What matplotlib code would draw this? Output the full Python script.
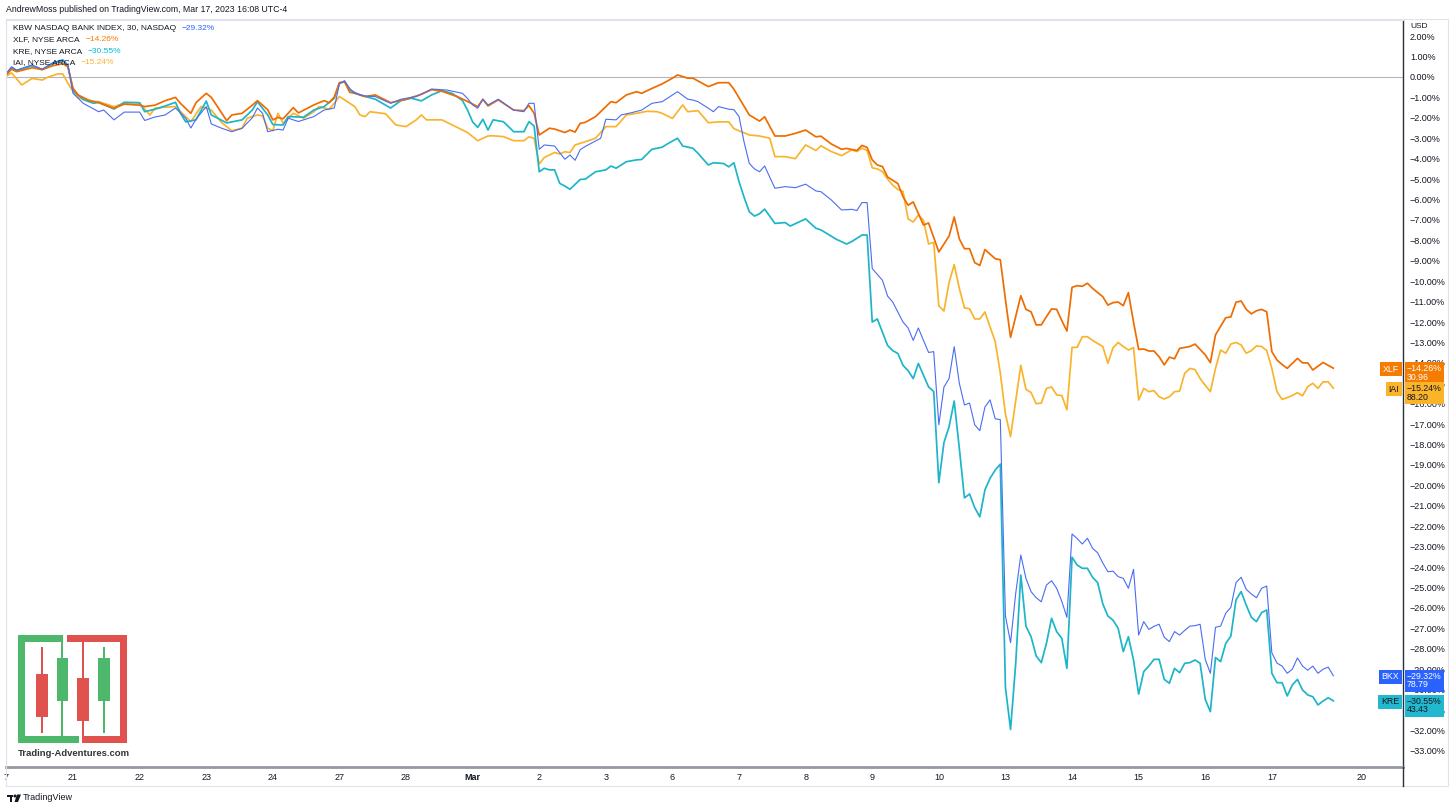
import numpy as np
import matplotlib.pyplot as plt
from matplotlib.patches import Rectangle, Polygon, Ellipse
from matplotlib.lines import Line2D
from matplotlib.transforms import blended_transform_factory, offset_copy

plt.rcParams['font.family'] = ['Liberation Sans', 'DejaVu Sans']

W, H = 1456, 810

# (30-min bar index counted from the Feb 17 open, % change since start)
xlf = [(0, 0.1), (1, 0.38), (2, 0.26), (5, 0.45), (7, 0.36), (9, 0.55), (11, 0.65), (12, 0.5),
       (13, -0.55), (14, -0.88), (16, -1.13), (18, -1.26), (21, -1.53), (23, -1.33), (26, -1.38),
       (27, -1.45), (29, -1.38), (31, -1.16), (33, -1.0), (34, -1.3), (36, -1.78), (37, -1.26),
       (39, -0.8), (40, -1.0), (43, -2.14), (44, -1.86), (46, -1.78), (48, -1.38), (49, -1.16),
       (51, -1.6), (52, -2.1), (53, -1.98), (54, -2.05), (56, -1.5), (57, -1.76), (60, -1.37),
       (62, -1.16), (63, -1.26), (64, -0.98), (65, -0.28), (66, -0.23), (67, -0.75), (68, -0.8),
       (70, -0.96), (72, -0.88), (75, -1.26), (78, -1.09), (81, -0.85), (83, -0.62), (85, -0.7),
       (88, -0.96), (90, -1.2), (92, -1.45), (93, -1.09), (94, -1.42), (96, -1.12), (99, -1.62),
       (101, -1.65), (102, -1.4), (103, -1.78), (104, -2.84), (106, -2.51), (107, -2.55),
       (109, -2.72), (110, -2.6), (111, -2.7), (112, -2.27), (113, -2.22), (115, -1.94),
       (118, -1.21), (119, -1.26), (121, -0.88), (123, -0.72), (124, -0.8), (126, -0.56),
       (128, -0.34), (130, -0.06), (131, 0.1), (133, -0.06), (134, -0.06), (137, -0.47),
       (139, -0.28), (141, -0.28), (142, -0.6), (145, -1.86), (147, -2.16), (148, -1.95),
       (150, -2.89), (152, -2.89), (154, -2.76), (156, -2.6), (158, -2.93), (159, -2.9),
       (161, -3.28), (163, -3.54), (164, -3.5), (166, -3.6), (167, -3.35), (168, -3.45),
       (169, -4.06), (170, -4.31), (171, -4.39), (172, -4.9), (174, -5.22), (175, -5.86),
       (176, -6.28), (177, -6.12), (179, -7.25), (180, -7.15), (182, -8.57), (184, -7.79),
       (185, -6.86), (186, -7.93), (187, -8.41), (188, -8.41), (189, -9.09), (190, -9.23),
       (191, -8.45), (193, -8.9), (194, -8.95), (195, -10.9), (196, -12.75), (198, -10.71),
       (199, -11.38), (200, -11.5), (201, -12.14), (202, -12.14), (203, -11.74), (204, -11.36),
       (205, -11.38), (206, -11.93), (207, -12.44), (208, -10.3), (209, -10.22), (210, -10.25),
       (211, -10.1), (212, -10.35), (214, -10.76), (215, -11.17), (216, -11.05), (217, -11.02),
       (218, -11.2), (219, -10.56), (220, -12.0), (221, -13.34), (222, -13.32), (223, -13.42),
       (224, -13.42), (225, -13.7), (226, -14.1), (227, -13.72), (228, -13.8), (229, -13.29),
       (231, -13.2), (232, -13.08), (233, -13.34), (234, -13.61), (235, -13.99), (236, -12.63),
       (238, -11.79), (239, -11.75), (240, -11.03), (241, -10.97), (242, -11.38), (243, -11.6),
       (244, -11.45), (245, -11.38), (246, -11.5), (247, -13.45), (248, -13.86), (249, -14.08),
       (250, -14.27), (252, -13.78), (253, -14.0), (254, -14.0), (255, -14.35), (257, -13.98),
       (259, -14.26)]

iai = [(0, 0.05), (1, 0.2), (3, -0.39), (5, -0.07), (7, -0.15), (8, -0.02), (10, 0.15), (11, 0.15),
       (12, -0.31), (13, -0.7), (14, -1.0), (16, -1.2), (18, -1.21), (21, -1.45), (23, -1.29),
       (25, -1.26), (26, -1.29), (28, -1.86), (29, -1.53), (31, -1.48), (33, -1.45), (35, -1.94),
       (36, -2.19), (38, -1.45), (40, -1.62), (42, -2.23), (44, -2.63), (46, -2.51), (47, -2.02),
       (49, -1.86), (50, -1.9), (51, -2.51), (52, -2.63), (53, -1.78), (54, -2.27), (55, -2.02),
       (56, -1.78), (58, -2.02), (60, -1.7), (61, -1.45), (63, -1.58), (64, -1.29), (65, -0.96),
       (66, -1.12), (68, -1.45), (69, -1.86), (70, -1.94), (71, -1.7), (74, -1.8), (76, -2.35),
       (78, -2.43), (80, -2.1), (81, -1.86), (82, -2.1), (85, -2.1), (87, -2.35), (89, -2.6),
       (90, -2.72), (92, -3.12), (94, -2.89), (95, -2.88), (97, -2.92), (99, -3.12), (101, -3.12),
       (102, -2.93), (103, -3.0), (104, -4.26), (105, -3.94), (107, -3.7), (108, -3.77),
       (109, -3.66), (110, -3.7), (111, -3.33), (113, -3.17), (115, -3.0), (117, -2.43),
       (119, -2.43), (121, -1.86), (123, -1.78), (125, -1.68), (127, -1.7), (128, -1.78),
       (130, -2.03), (132, -1.37), (133, -1.7), (135, -1.65), (137, -2.24), (139, -2.2),
       (141, -2.2), (142, -2.53), (145, -2.84), (147, -2.89), (149, -3.0), (150, -3.9),
       (152, -3.9), (154, -4.0), (156, -3.33), (158, -3.6), (159, -3.37), (161, -3.65),
       (163, -3.85), (165, -3.57), (166, -3.65), (167, -3.48), (168, -3.6), (169, -4.45),
       (170, -4.5), (171, -4.64), (172, -5.0), (173, -5.3), (174, -5.51), (175, -5.6),
       (176, -6.95), (177, -7.1), (178, -6.76), (179, -7.02), (180, -8.18), (181, -8.1),
       (182, -11.21), (183, -11.46), (184, -10.06), (185, -9.19), (186, -10.35), (187, -11.31),
       (188, -11.35), (189, -11.85), (190, -11.85), (191, -11.51), (193, -12.96), (194, -14.5),
       (195, -16.5), (196, -17.61), (198, -14.12), (199, -15.3), (200, -15.45), (201, -16.0),
       (202, -15.97), (203, -15.25), (204, -15.18), (205, -15.57), (206, -15.6), (207, -16.3),
       (208, -13.24), (209, -13.24), (210, -12.72), (211, -12.72), (212, -12.9), (214, -13.2),
       (215, -14.02), (216, -13.26), (217, -13.0), (218, -13.2), (219, -13.37), (220, -13.25),
       (221, -15.82), (222, -15.25), (223, -15.41), (224, -15.36), (225, -15.66), (226, -15.77),
       (227, -15.66), (228, -15.41), (229, -15.38), (230, -14.51), (231, -14.27), (232, -14.33),
       (233, -14.77), (234, -15.1), (235, -15.41), (236, -14.27), (237, -13.37), (238, -13.53),
       (239, -13.08), (240, -13.0), (241, -13.12), (242, -13.53), (243, -13.4), (244, -13.17),
       (245, -13.2), (246, -13.4), (247, -14.27), (248, -15.41), (249, -15.79), (250, -15.7),
       (251, -15.6), (252, -15.46), (253, -15.61), (254, -15.17), (255, -15.0), (256, -15.25),
       (257, -14.93), (258, -14.93), (259, -15.24)]

bkx = [(0, 0.18), (1, 0.5), (2, 0.34), (5, 0.59), (7, 0.38), (9, 0.7), (11, 0.85), (12, 0.6),
       (13, -0.8), (15, -1.29), (18, -1.7), (19, -1.62), (21, -2.1), (23, -1.72), (26, -1.72),
       (27, -2.13), (29, -1.96), (31, -1.86), (33, -1.52), (35, -2.02), (36, -2.5), (37, -2.07),
       (39, -1.45), (40, -2.3), (42, -2.51), (44, -2.68), (46, -2.51), (48, -2.0), (49, -1.52),
       (50, -1.78), (51, -2.68), (53, -2.56), (54, -2.6), (55, -2.02), (57, -2.18), (60, -1.94),
       (62, -1.62), (64, -1.52), (65, -0.33), (66, -0.18), (67, -0.56), (68, -0.8), (70, -0.93),
       (72, -0.96), (75, -1.29), (77, -1.09), (80, -0.96), (83, -0.59), (86, -0.64), (89, -0.8),
       (90, -1.05), (91, -1.37), (92, -1.53), (93, -1.09), (94, -1.37), (96, -1.09), (99, -1.62),
       (101, -1.7), (102, -1.29), (103, -1.29), (104, -3.54), (105, -3.33), (107, -3.38),
       (109, -4.03), (110, -3.82), (111, -4.08), (112, -3.56), (113, -3.4), (116, -3.0),
       (117, -2.07), (119, -2.1), (120, -1.86), (122, -1.75), (124, -1.62), (126, -1.29),
       (128, -1.21), (131, -0.72), (133, -1.09), (134, -1.13), (135, -1.21), (137, -1.53),
       (138, -1.7), (139, -1.45), (141, -1.58), (142, -1.6), (143, -1.94), (144, -3.2),
       (145, -4.23), (146, -4.5), (147, -4.64), (148, -4.36), (150, -5.45), (152, -5.37),
       (154, -5.42), (156, -5.25), (158, -5.58), (159, -5.62), (161, -6.02), (163, -6.51),
       (164, -6.5), (165, -6.48), (166, -6.54), (167, -6.15), (168, -6.15), (169, -9.38),
       (170, -9.67), (171, -9.96), (172, -10.73), (173, -11.02), (174, -11.51), (175, -12.0),
       (176, -12.29), (177, -12.9), (178, -12.29), (179, -12.9), (180, -13.49), (181, -13.45),
       (182, -17.03), (183, -15.18), (184, -14.77), (185, -13.21), (186, -15.0), (187, -16.06),
       (188, -15.97), (189, -17.03), (190, -17.32), (191, -16.16), (192, -15.81), (193, -16.74),
       (194, -16.78), (195, -26.4), (196, -27.7), (197, -25.3), (198, -23.41), (199, -24.55),
       (200, -25.2), (201, -25.5), (202, -25.7), (203, -24.88), (204, -24.67), (205, -25.04),
       (206, -25.68), (207, -26.46), (208, -22.38), (209, -22.6), (210, -22.87), (211, -22.59),
       (212, -23.08), (213, -23.3), (214, -23.8), (215, -24.23), (216, -24.2), (217, -24.47),
       (218, -24.55), (219, -25.04), (220, -24.11), (221, -27.33), (222, -26.67), (223, -27.05),
       (224, -26.9), (225, -26.8), (226, -27.44), (227, -27.65), (228, -27.16), (229, -27.33),
       (230, -27.1), (231, -26.89), (232, -26.87), (233, -26.8), (234, -28.52), (235, -29.2),
       (236, -26.95), (237, -26.89), (238, -26.26), (239, -25.97), (240, -24.76), (241, -24.5),
       (242, -25.09), (243, -25.32), (244, -25.5), (245, -25.04), (246, -24.93), (247, -28.2),
       (248, -28.7), (249, -28.85), (250, -29.2), (251, -29.0), (252, -28.45), (253, -28.85),
       (254, -29.05), (255, -28.85), (256, -29.2), (257, -29.0), (258, -28.9), (259, -29.32)]

kre = [(0, 0.15), (1, 0.45), (2, 0.3), (5, 0.55), (7, 0.36), (9, 0.65), (11, 0.8), (12, 0.55),
       (13, -0.68), (15, -1.1), (17, -1.29), (18, -1.24), (21, -1.57), (23, -1.24), (26, -1.26),
       (27, -1.7), (29, -1.58), (31, -1.42), (33, -1.24), (34, -1.78), (35, -2.2), (37, -2.1),
       (39, -1.18), (40, -1.86), (43, -2.25), (46, -2.1), (48, -1.62), (49, -1.21), (51, -1.86),
       (52, -2.33), (54, -2.35), (55, -1.94), (58, -1.97), (60, -1.62), (62, -1.45), (64, -1.04),
       (65, -0.31), (66, -0.23), (67, -0.64), (69, -0.88), (72, -1.09), (75, -1.52), (77, -1.16),
       (79, -1.04), (81, -1.17), (83, -0.88), (85, -0.67), (87, -0.8), (89, -1.15), (90, -1.62),
       (91, -2.2), (92, -2.47), (93, -2.07), (94, -2.6), (95, -2.1), (97, -2.19), (98, -2.43),
       (99, -2.68), (101, -2.68), (102, -2.19), (103, -2.4), (104, -4.64), (105, -4.47),
       (106, -4.55), (107, -4.55), (108, -5.21), (109, -5.34), (110, -5.5), (112, -5.02),
       (113, -5.0), (115, -4.64), (117, -4.55), (118, -4.36), (119, -4.47), (121, -4.15),
       (123, -4.06), (124, -4.04), (126, -3.54), (128, -3.44), (129, -3.28), (131, -3.0),
       (132, -3.38), (134, -3.49), (135, -3.74), (137, -4.31), (138, -4.2), (140, -4.24),
       (141, -4.4), (142, -4.2), (143, -5.13), (144, -5.9), (145, -6.6), (146, -6.81),
       (147, -6.7), (148, -6.47), (150, -7.17), (152, -7.13), (153, -7.3), (156, -6.95),
       (158, -7.41), (159, -7.49), (162, -7.95), (164, -8.18), (165, -8.06), (167, -7.74),
       (168, -7.74), (169, -12.0), (170, -11.85), (171, -12.5), (172, -13.15), (173, -13.4),
       (174, -13.54), (175, -14.12), (176, -14.38), (177, -14.77), (178, -14.03), (179, -14.6),
       (180, -15.18), (181, -15.4), (182, -19.87), (183, -17.9), (184, -17.13), (185, -15.87),
       (186, -18.19), (187, -20.61), (188, -20.42), (189, -21.09), (190, -21.54), (191, -20.22),
       (192, -19.65), (193, -19.25), (194, -18.96), (195, -29.9), (196, -31.95), (197, -28.74),
       (198, -24.39), (199, -26.89), (200, -27.41), (201, -28.35), (202, -28.68), (203, -27.74),
       (204, -26.51), (205, -27.16), (206, -27.49), (207, -28.96), (208, -23.52), (209, -23.9),
       (210, -24.06), (211, -24.06), (212, -24.5), (213, -24.76), (214, -25.8), (215, -26.4),
       (216, -26.6), (217, -27.0), (218, -28.14), (219, -27.41), (220, -28.55), (221, -30.22),
       (222, -29.12), (223, -28.84), (224, -28.52), (225, -28.52), (226, -29.5), (227, -29.69),
       (228, -28.96), (229, -29.17), (230, -28.71), (231, -28.68), (232, -28.55), (233, -28.71),
       (234, -30.48), (235, -31.08), (236, -28.43), (237, -28.63), (238, -27.74), (239, -27.38),
       (240, -25.61), (241, -25.2), (242, -25.86), (243, -26.46), (244, -26.67), (245, -26.23),
       (246, -26.1), (247, -29.2), (248, -29.66), (249, -29.66), (250, -30.31), (251, -29.77),
       (252, -29.5), (253, -30.02), (254, -30.26), (255, -30.35), (256, -30.75), (257, -30.56),
       (258, -30.4), (259, -30.55)]

last_price = {'XLF': '30.96', 'IAI': '88.20', 'BKX': '78.79', 'KRE': '43.43'}

day_labels = ['7', '21', '22', '23', '24', '27', '28', 'Mar', '2', '3', '6', '7', '8', '9',
              '10', '13', '14', '15', '16', '17', '20']
tick_bars = [13 * i for i in range(20)] + [264.6]
pct_ticks = np.arange(2, -34, -1)


def fx(p):
    return p / W


def fy(p):
    return 1 - p / H


def fmt(v):
    return f"{v:.2f}%".replace('-', '\u2212')


fig = plt.figure(figsize=(W / 100, H / 100), dpi=100)
fig.patch.set_facecolor('white')
ax = fig.add_axes([fx(6), fy(767), fx(1403) - fx(6), fy(20) - fy(767)])

ax.axhline(0, color='#B2B5BE', lw=0.8, zorder=1)

colors = {'XLF': '#EF6C00', 'IAI': '#F9B42D', 'BKX': '#4A6CF2', 'KRE': '#1DB5C8'}
for name, data, lw in [('IAI', iai, 1.25), ('KRE', kre, 1.25), ('XLF', xlf, 1.25), ('BKX', bkx, 0.8)]:
    b, v = zip(*data)
    ax.plot(b, v, color=colors[name], lw=lw, zorder=3)

ax.set_xlim(-0.08, 272.6)
ax.set_ylim(-33.79, 2.79)

ax.yaxis.tick_right()
ax.set_yticks(pct_ticks)
ax.set_yticklabels([fmt(v) for v in pct_ticks])
ax.tick_params(axis='y', length=0, pad=5, labelsize=6.5, labelcolor='#131722')
ax.set_xticks(tick_bars)
ax.set_xticklabels(day_labels)
ax.tick_params(axis='x', length=0, pad=4, labelsize=6.5, labelcolor='#131722')
for lbl in ax.get_xticklabels():
    if lbl.get_text() == 'Mar':
        lbl.set_fontweight('bold')

ax.spines['right'].set_color('#2A2E39')
ax.spines['right'].set_linewidth(1)
ax.spines['bottom'].set_color('#9598A1')
ax.spines['bottom'].set_linewidth(2)
for s in ['left', 'top']:
    ax.spines[s].set_color('#E0E3EB')
    ax.spines[s].set_linewidth(0.8)

# pane frame and price-axis line through the date row
fig.add_artist(Rectangle((fx(6), fy(786)), fx(1448) - fx(6), fy(19) - fy(786),
                         transform=fig.transFigure, fill=False, ec='#E0E3EB', lw=0.8))
fig.add_artist(Line2D([fx(1403), fx(1403)], [fy(767), fy(786)], color='#2A2E39', lw=1))

# price tags on the right
tr = blended_transform_factory(ax.transAxes, ax.transData)
tag_style = {'XLF': ('#F57C00', 'white'), 'IAI': ('#FBB42A', '#131722'),
             'BKX': ('#2962FF', 'white'), 'KRE': ('#22B8CF', '#131722')}
for name, data in [('XLF', xlf), ('IAI', iai), ('BKX', bkx), ('KRE', kre)]:
    val = data[-1][1]
    bg, fg = tag_style[name]
    ax.text(1, val, fmt(val) + '\n' + last_price[name],
            transform=offset_copy(tr, fig, x=4, y=4, units='dots'),
            ha='left', va='top', fontsize=6.3, color=fg, linespacing=0.95,
            bbox=dict(boxstyle='square,pad=0.25', fc=bg, ec='none'), zorder=20, clip_on=False)
    ax.text(1, val, name, transform=offset_copy(tr, fig, x=-4, y=-1, units='dots'),
            ha='right', va='center', fontsize=6.3, color=fg,
            bbox=dict(boxstyle='square,pad=0.3', fc=bg, ec='none'), zorder=20, clip_on=False)

fig.text(fx(1410), fy(26), 'USD', fontsize=6, va='center', color='#131722')

# header and legend
fig.text(fx(6), fy(10), 'AndrewMoss published on TradingView.com, Mar 17, 2023 16:08 UTC-4',
         fontsize=6.3, va='center', color='#131722')
legend = [('KBW NASDAQ BANK INDEX, 30, NASDAQ', bkx, '#2962FF'),
          ('XLF, NYSE ARCA', xlf, '#F57C00'),
          ('KRE, NYSE ARCA', kre, '#00BCD4'),
          ('IAI, NYSE ARCA', iai, '#F9B233')]
for i, (name, data, c) in enumerate(legend):
    t = fig.text(fx(13), fy(28 + 11.6 * i), name, fontsize=6, va='center', color='#131722')
    ax.annotate(fmt(data[-1][1]), xy=(1, 0.5), xycoords=t, xytext=(4, 0),
                textcoords='offset points', va='center', fontsize=6, color=c)


# Trading-Adventures logo
def px_rect(x0, y0, x1, y1, color):
    fig.add_artist(Rectangle((fx(x0), fy(y1)), (x1 - x0) / W, (y1 - y0) / H,
                             transform=fig.transFigure, color=color, lw=0))


green, red = '#4DB86B', '#E0524E'
px_rect(18, 635, 25, 743, green)
px_rect(18, 635, 63, 642, green)
px_rect(18, 736, 79, 743, green)
px_rect(67, 635, 127, 642, red)
px_rect(120, 635, 127, 743, red)
px_rect(82, 736, 127, 743, red)
px_rect(41.3, 647, 43, 733, red)
px_rect(36, 674, 48, 717, red)
px_rect(61.3, 642, 63, 736, green)
px_rect(57, 658, 68, 701, green)
px_rect(82, 642, 84, 736, red)
px_rect(77, 678, 89, 721, red)
px_rect(103.3, 647, 105, 733, green)
px_rect(98, 658, 110, 701, green)
fig.text(fx(18), fy(753), 'Trading-Adventures.com', fontsize=6.8, fontweight='bold',
         va='center', color='#333333')

# TradingView footer
px_rect(7, 794.5, 13, 797, '#131722')
px_rect(9.5, 794.5, 12, 802, '#131722')
fig.add_artist(Ellipse((fx(15), fy(796)), 3 / W, 3 / H, transform=fig.transFigure,
                       color='#131722', lw=0))
fig.add_artist(Polygon([(fx(17), fy(794.5)), (fx(21), fy(794.5)), (fx(18), fy(802)),
                        (fx(14.5), fy(802))], closed=True, transform=fig.transFigure,
                       color='#131722', lw=0))
fig.text(fx(23), fy(798), 'TradingView', fontsize=6.5, va='center', color='#131722')

fig.savefig('out.png', dpi=100, facecolor='white')
